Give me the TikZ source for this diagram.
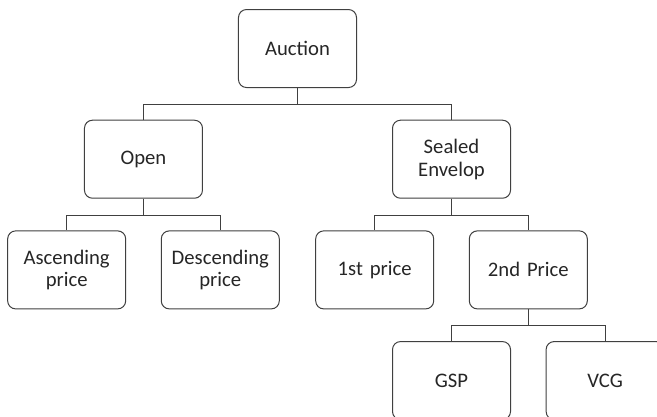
\documentclass[tikz,border=0pt]{standalone}
\usepackage{fontspec}
\setmainfont{Carlito}
\usepackage{tikz}
\usetikzlibrary{shapes, arrows, positioning}
\tikzstyle{box} = [rectangle, rounded corners=6pt, draw=black!75, line width=0.75pt, fill=white, minimum width=88.5pt, minimum height=58.5pt, text width=80pt, align=center, font=\fontsize{15.5}{17}\selectfont, text=black!85]
\tikzstyle{link} = [draw=black!75, line width=0.75pt]

\begin{document}
\begin{tikzpicture}[node distance=83pt, auto]
        \useasboundingbox (-223.1pt,36.4pt) rectangle (269.6pt,-275.6pt);
        % Root
        \node (auction) [box] {Auction};

        % Level 1
        \node (open) [box, below of=auction, xshift=-115.5pt] {Open};
        \node (sealed) [box, below of=auction, xshift=115.5pt] {Sealed\\Envelop};

        % Level 2
        \node (ascending) [box, below of=open, xshift=-57.6pt] {Ascending\\price};
        \node (descending) [box, below of=open, xshift=57.6pt] {Descending\\price};
        \node (first) [box, below of=sealed, xshift=-57.6pt] {1st price};
        \node (second) [box, below of=sealed, xshift=57.6pt] {2nd Price};

        % Level 3
        \node (gsp) [box, below of=second, xshift=-57.6pt] {GSP};
        \node (vcg) [box, below of=second, xshift=57.6pt] {VCG};

        % Links
        \draw [link] (auction.south) -- ++(0,-12.25pt) -| (open.north);
        \draw [link] (auction.south) -- ++(0,-12.25pt) -| (sealed.north);

        \draw [link] (open.south) -- ++(0,-12.25pt) -| (ascending.north);
        \draw [link] (open.south) -- ++(0,-12.25pt) -| (descending.north);

        \draw [link] (sealed.south) -- ++(0,-12.25pt) -| (first.north);
        \draw [link] (sealed.south) -- ++(0,-12.25pt) -| (second.north);

        \draw [link] (second.south) -- ++(0,-12.25pt) -| (gsp.north);
        \draw [link] (second.south) -- ++(0,-12.25pt) -| (vcg.north);

    \end{tikzpicture}
\end{document}
